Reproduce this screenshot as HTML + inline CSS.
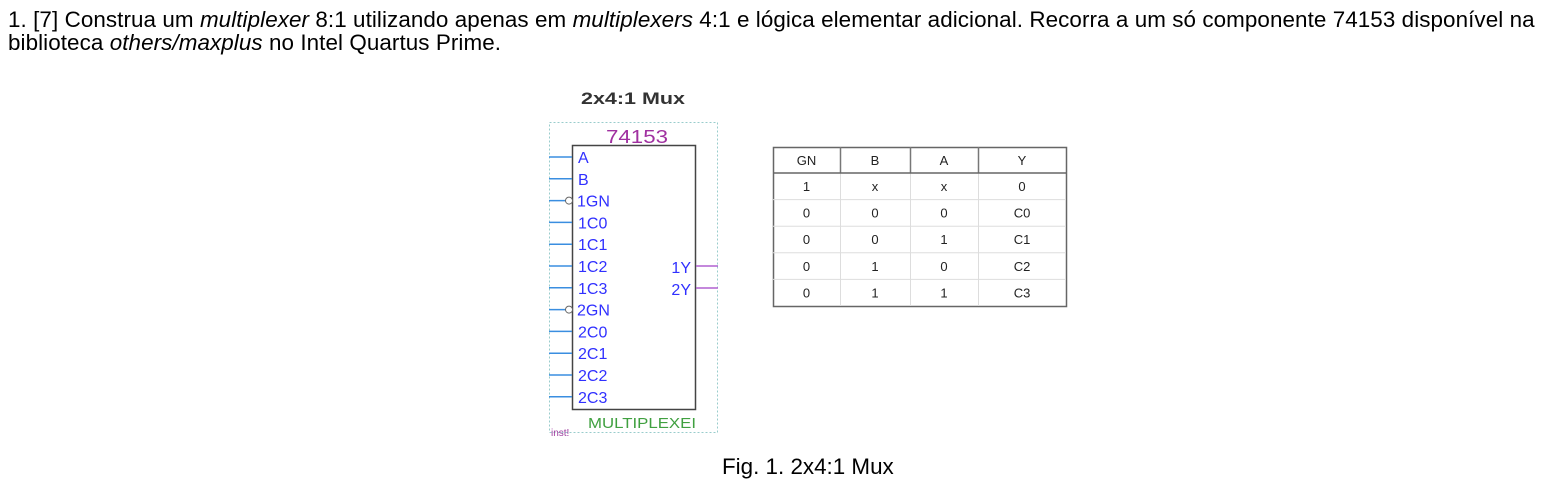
<!DOCTYPE html>
<html><head><meta charset="utf-8"><style>
body{margin:0;width:1553px;height:482px;background:#fff;position:relative;overflow:hidden;font-family:"Liberation Sans",Arial,sans-serif;color:#000}
.t{position:absolute;font-size:22.4px;line-height:1;white-space:nowrap}
</style></head><body>
<div class="t" style="left:8px;top:9px;letter-spacing:0.08px">1. [7] Construa um <i>multiplexer</i> 8:1 utilizando apenas em <i>multiplexers</i> 4:1 e lógica elementar adicional. Recorra a um só componente 74153 disponível na</div>
<div class="t" style="left:8px;top:32px;letter-spacing:0.08px">biblioteca <i>others/maxplus</i> no Intel Quartus Prime.</div>
<svg width="1553" height="482" style="position:absolute;left:0;top:0" font-family="Liberation Sans, Arial, sans-serif">
<text x="581" y="104" font-size="17" font-weight="bold" fill="#333" textLength="104" lengthAdjust="spacingAndGlyphs">2x4:1 Mux</text>
<rect x="549.5" y="122.5" width="168" height="310" fill="none" stroke="#9cc" stroke-dasharray="2,2"/>
<text x="606" y="143" font-size="18" fill="#a030a0" textLength="62" lengthAdjust="spacingAndGlyphs">74153</text>
<rect x="572.5" y="145.5" width="123" height="264" fill="#fff" stroke="#444" stroke-width="1.5"/>
<g id="pins" stroke="#3a8ee0" stroke-width="1.5"></g>
<g id="plabels" font-size="16" fill="#3030ff"></g>
<line x1="696" y1="266" x2="718" y2="266" stroke="#b060d0" stroke-width="1.5"/>
<line x1="696" y1="288" x2="718" y2="288" stroke="#b060d0" stroke-width="1.5"/>
<text x="691" y="273" font-size="16" fill="#3030ff" text-anchor="end">1Y</text>
<text x="691" y="295" font-size="16" fill="#3030ff" text-anchor="end">2Y</text>
<text x="588" y="428" font-size="15" fill="#40a040" textLength="108" lengthAdjust="spacingAndGlyphs">MULTIPLEXEI</text>
<text x="551" y="436" font-size="10" fill="#a040a0">inst!</text>
<g id="table" font-size="13" fill="#222" text-anchor="middle"></g>
</svg>
<div class="t" style="left:722px;top:456px">Fig. 1. 2x4:1 Mux</div>
<script>
const pins=["A","B","1GN","1C0","1C1","1C2","1C3","2GN","2C0","2C1","2C2","2C3"];
const NS="http://www.w3.org/2000/svg";
const pg=document.getElementById('pins'),lg=document.getElementById('plabels');
pins.forEach((p,i)=>{const y=157+i*21.8;const inv=p.includes("GN");
const l=document.createElementNS(NS,'line');


l.setAttribute('x1',549);l.setAttribute('x2',inv?567:572);l.setAttribute('y1',y);l.setAttribute('y2',y);pg.appendChild(l);
if(inv){const c=document.createElementNS(NS,'circle');


c.setAttribute('cx',569);c.setAttribute('cy',y);c.setAttribute('r',3.5);c.setAttribute('fill','#fff');c.setAttribute('stroke','#666');c.setAttribute('stroke-width','1');pg.appendChild(c);}
const t=document.createElementNS(NS,'text');


t.setAttribute('x',inv?577:578);t.setAttribute('y',y+6);t.textContent=p;lg.appendChild(t);});
const head=["GN","B","A","Y"];
const rows=[["1","x","x","0"],["0","0","0","C0"],["0","0","1","C1"],["0","1","0","C2"],["0","1","1","C3"]];
const cx=[773,840,910,978,1066];const tg=document.getElementById('table');
function add(tag,attrs,name,txt){const e=document.createElementNS(NS,tag);


for(const k in attrs)e.setAttribute(k,attrs[k]);if(txt!==undefined)e.textContent=txt;tg.appendChild(e);return e;}
const y0=147,hh=26,rh=26.6,yEnd=y0+hh+rh*rows.length;
add('rect',{x:773.5,y:y0+.5,width:293,height:yEnd-y0,fill:'none',stroke:'#666','stroke-width':1.5},'truth-table-border');
for(let i=1;i<4;i++)add('line',{x1:cx[i]+.5,x2:cx[i]+.5,y1:y0,y2:y0+hh,stroke:'#777','stroke-width':1.5},'header-divider');
for(let i=1;i<4;i++)add('line',{x1:cx[i]+.5,x2:cx[i]+.5,y1:y0+hh,y2:yEnd,stroke:'#ddd'},'column-divider');
add('line',{x1:773,x2:1066,y1:y0+hh,y2:y0+hh,stroke:'#666','stroke-width':1.5},'header-bottom');
for(let r=1;r<rows.length;r++)add('line',{x1:773,x2:1066,y1:y0+hh+rh*r,y2:y0+hh+rh*r,stroke:'#ddd'},'row-divider');
head.forEach((h,i)=>add('text',{x:(cx[i]+cx[i+1])/2,y:y0+18},'header-'+h.toLowerCase(),h));
rows.forEach((row,r)=>row.forEach((v,i)=>add('text',{x:(cx[i]+cx[i+1])/2,y:y0+hh+rh*r+18},'cell',v)));
</script>
</body></html>
